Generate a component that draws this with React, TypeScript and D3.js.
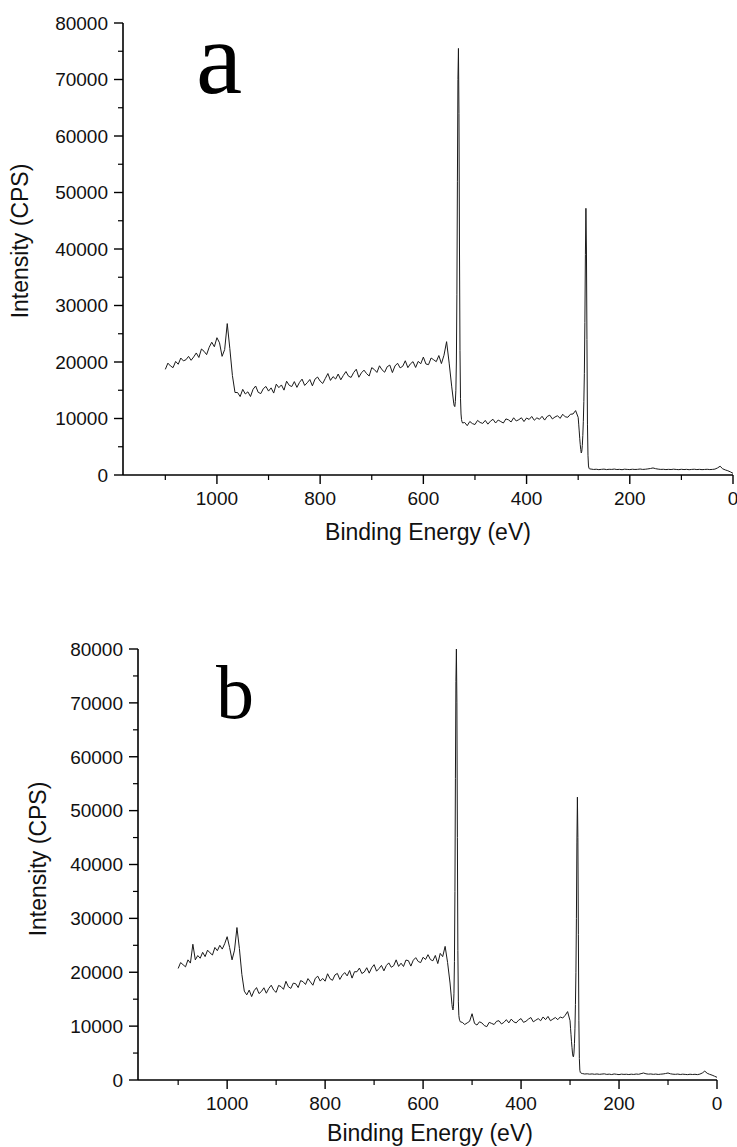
import * as d3 from "d3";

// Binding energies are sampled every 5 eV in the background regions,
// and point by point around the O 1s and C 1s peaks.
const stepEV = 5;

// ---- panel a ----
const aHighStart = 1100; // 1100 -> 545 eV
const aHigh = [
  18700, 19800, 19300, 19000, 20100, 19600, 20700, 20200, 20400, 21000,
  20300, 20900, 21600, 20800, 22300, 21900, 21300, 22600, 23500, 22700,
  24300, 23400, 21000, 22200, 26800, 22400, 17600, 14600,
  14600, 13880, 15160, 14340, 14720, 13890, 15170, 15750, 14630, 14410,
  15290, 15670, 14850, 15420, 14500, 16080, 15460, 15940, 15020, 16600,
  15880, 15650, 16530, 15510, 16390, 16970, 15850, 16330, 16900, 15780,
  16960, 17340, 16620, 16200, 17080, 17960, 16740, 17410, 16990, 17870,
  16850, 17630, 18310, 17490, 17270, 18140, 18720, 17300, 18080, 18560,
  17940, 17520, 19000, 18670, 18150, 19330, 18610, 18190, 19170, 19450,
  18130, 19300, 19780, 18960, 19240, 20220, 19000, 19680, 20060, 19030,
  20110, 19690, 20870, 19650, 19530, 20710, 20390, 20060, 21140, 19720,
  21200, 23600, 19800, 15600,
];
const aMidStart = 520; // 520 -> 300 eV
const aMid = [
  9300, 8730, 9470, 9100, 8930, 9665, 9300, 9130, 9660, 9000,
  9530, 9860, 9200, 9730, 9460, 9200, 9930, 9760, 9390, 10130,
  9560, 9790, 10130, 9460, 10090, 9830, 10360, 9690, 10120, 9860,
  10390, 9720, 10360, 10590, 9920, 10260, 10490, 10020, 10750, 10290,
  10220, 10750, 10800, 11400, 10200,
];
const aLowStart = 275; // 275 -> 0 eV
const aLow = [
  1050, 980, 1020, 950, 1000, 1040, 960, 1010, 990, 1050,
  970, 1000, 940, 1030, 990, 960, 1020, 980, 1000, 1060,
  990, 1020, 1080, 1150, 1250, 1120, 1040, 990, 1010, 960,
  1000, 970, 1030, 980, 950, 1010, 960, 1000, 940, 990,
  1020, 960, 1000, 950, 980, 1010, 960, 990, 1040, 1250,
  1550, 1100, 900, 750, 550, 300,
];
const aO1s = [
  [541, 12600], [540, 12200], [539, 12100], [538, 13000], [537, 15000],
  [536, 20000], [535, 32000], [534, 52000], [533, 70000], [532, 75500],
  [531, 64000], [530, 40000], [529, 22000], [528, 13500], [527, 10800],
  [526, 9800], [525, 9400], [524, 9200],
];
const aC1s = [
  [299, 9000], [298, 7800], [297, 6500], [296, 5400], [295, 4500],
  [294, 3900], [293, 4200], [292, 5200], [291, 7000], [290, 9500],
  [289, 13000], [288, 18000], [287, 27000], [286, 39000], [285, 47200],
  [284, 40000], [283, 24000], [282, 9000], [281, 3500], [280, 1600],
  [279, 1200], [278, 1080],
];

// ---- panel b ----
const bHighStart = 1100;
const bHigh = [
  20700, 21800, 21400, 21000, 22300, 21700, 25200, 22300, 23100, 22600,
  23700, 22900, 24100, 23600, 23200, 24600, 24000, 25000, 24300, 25300,
  26600, 24600, 22300, 24100, 28300, 24400, 19600, 16500,
  15800, 16690, 15480, 16570, 17150, 16040, 16430, 17120, 16110, 17000,
  17590, 16680, 16260, 17550, 17340, 16830, 18320, 17310, 17000, 17980,
  17870, 17160, 18450, 18240, 17730, 18820, 18200, 17590, 18880, 19270,
  18360, 18850, 18340, 19720, 18810, 18500, 19490, 19780, 18670, 19460,
  19940, 19330, 20320, 18910, 20100, 20090, 20780, 19760, 20050, 20840,
  19830, 20820, 21410, 20200, 20680, 21270, 20260, 21250, 21740, 20930,
  21220, 22300, 21090, 21680, 21070, 22260, 22150, 21140, 22230, 22710,
  22000, 21790, 22780, 22370, 23260, 22350, 22130, 23120, 21610, 23500,
  22900, 24800, 21800, 18000,
];
const bMidStart = 520;
const bMid = [
  10700, 10300, 10600, 10900, 12300, 10500, 10200, 10800, 10600, 10100,
  9900, 10700, 10500, 10300, 10900, 11000, 10400, 10700, 11200, 10600,
  11300, 10800, 10600, 11100, 11400, 10700, 10900, 11300, 11600, 10800,
  11100, 11400, 11000, 11700, 11200, 11800, 11000, 11300, 11600, 11200,
  11700, 11500, 12000, 12700, 11000,
];
const bLowStart = 275;
const bLow = [
  1200, 1110, 1150, 1080, 1130, 1060, 1120, 1050, 1100, 1140,
  1040, 1090, 1010, 1120, 1060, 1000, 1090, 1040, 1070, 1010,
  1080, 1030, 1110, 1060, 1180, 1300, 1150, 1090, 1120, 1050,
  1100, 1030, 1080, 1120, 1200, 1300, 1150, 1080, 1050, 1100,
  1020, 1080, 1040, 1000, 1070, 1020, 1060, 1000, 1090, 1300,
  1650, 1250, 1050, 900, 700, 500,
];
const bO1s = [
  [541, 14000], [540, 13300], [539, 13000], [538, 13600], [537, 16000],
  [536, 22000], [535, 35000], [534, 56000], [533, 74000], [532, 80000],
  [531, 70000], [530, 45000], [529, 24000], [528, 14500], [527, 12000],
  [526, 11300], [525, 11000], [524, 10800],
];
const bC1s = [
  [299, 9600], [298, 8400], [297, 7100], [296, 6000], [295, 5000],
  [294, 4400], [293, 4300], [292, 5000], [291, 6800], [290, 9500],
  [289, 14000], [288, 20000], [287, 30000], [286, 44000], [285, 52500],
  [284, 45000], [283, 27000], [282, 11000], [281, 4000], [280, 1800],
  [279, 1400], [278, 1300],
];

// axis ticks
const xMajorTicks = [1000, 800, 600, 400, 200, 0];
const xMinorTicks = [1100, 900, 700, 500, 300, 100];
const yMajorTicks = [0, 10000, 20000, 30000, 40000, 50000, 60000, 70000, 80000];
const yMinorTicks = [5000, 15000, 25000, 35000, 45000, 55000, 65000, 75000];
const xDomain = [1182, 0];
const yDomain = [0, 80000];
const xTitle = "Binding Energy (eV)";
const yTitle = "Intensity (CPS)";

const sans = "'Liberation Sans', Arial, sans-serif";
const serif = "'Liberation Serif', 'Times New Roman', serif";

function onGrid(start: number, values: number[]) {
  return values.map((v, i) => [start - i * stepEV, v]);
}

function spectrum(hs: number, h: number[], o: number[][], ms: number, m: number[], c: number[][], ls: number, l: number[]) {
  const pts = [...onGrid(hs, h), ...o, ...onGrid(ms, m), ...c, ...onGrid(ls, l)];
  return pts.sort((p, q) => q[0] - p[0]);
}

const seriesA = spectrum(aHighStart, aHigh, aO1s, aMidStart, aMid, aC1s, aLowStart, aLow);
const seriesB = spectrum(bHighStart, bHigh, bO1s, bMidStart, bMid, bC1s, bLowStart, bLow);

function Panel({ id, data, left, right, top, bottom, letter, letterX, letterY, letterSize, yTitleX, yTitleY, xTitleX, xTitleY }) {
  const x = d3.scaleLinear().domain(xDomain).range([left, right]);
  const y = d3.scaleLinear().domain(yDomain).range([bottom, top]);
  const line = d3.line<number[]>().x((d) => x(d[0])).y((d) => y(d[1]));

  return (
    <g>
      <defs>
        <clipPath id={`clip-${id}`}>
          <rect x={left} y={top - 1} width={right - left} height={bottom - top + 1} />
        </clipPath>
      </defs>
      <path d={line(data) ?? ""} fill="none" stroke="#1a1a1a" strokeWidth={1} strokeLinejoin="round" clipPath={`url(#clip-${id})`} />

      {/* y axis */}
      <line x1={left} x2={left} y1={top} y2={bottom} stroke="#000" strokeWidth={1.6} />
      {yMajorTicks.map((t) => (
        <g key={`ym-${t}`}>
          <line x1={left - 9} x2={left} y1={y(t)} y2={y(t)} stroke="#000" strokeWidth={1.4} />
          <text x={left - 15} y={y(t)} dy="0.36em" textAnchor="end" fontSize={19} fontFamily={sans} fill="#111">{t}</text>
        </g>
      ))}
      {yMinorTicks.map((t) => (
        <line key={`yn-${t}`} x1={left - 5} x2={left} y1={y(t)} y2={y(t)} stroke="#000" strokeWidth={1.2} />
      ))}

      {/* x axis */}
      <line x1={left} x2={right} y1={bottom} y2={bottom} stroke="#000" strokeWidth={1.6} />
      {xMajorTicks.map((t) => (
        <g key={`xm-${t}`}>
          <line x1={x(t)} x2={x(t)} y1={bottom} y2={bottom + 9} stroke="#000" strokeWidth={1.4} />
          <text x={x(t)} y={bottom + 30} textAnchor="middle" fontSize={19} fontFamily={sans} fill="#111">{t}</text>
        </g>
      ))}
      {xMinorTicks.map((t) => (
        <line key={`xn-${t}`} x1={x(t)} x2={x(t)} y1={bottom} y2={bottom + 5} stroke="#000" strokeWidth={1.2} />
      ))}

      <text x={xTitleX} y={xTitleY} textAnchor="middle" fontSize={23} fontFamily={sans} fill="#111">{xTitle}</text>
      <text transform={`translate(${yTitleX},${yTitleY}) rotate(-90)`} textAnchor="middle" fontSize={23} fontFamily={sans} fill="#111">{yTitle}</text>
      <text x={letterX} y={letterY} textAnchor="middle" fontSize={letterSize} fontFamily={serif} fill="#000">{letter}</text>
    </g>
  );
}

export default function App() {
  return (
    <svg width={737} height={1147} style={{ position: "absolute", left: 0, top: 0, background: "#fff" }}>
      <rect width={737} height={1147} fill="#fff" />
      <Panel id="a" data={seriesA} left={123} right={733} top={23} bottom={475}
        letter="a" letterX={219} letterY={93} letterSize={104}
        yTitleX={28} yTitleY={241} xTitleX={428} xTitleY={540} />
      <Panel id="b" data={seriesB} left={138} right={717} top={649} bottom={1080}
        letter="b" letterX={235} letterY={718} letterSize={76}
        yTitleX={46} yTitleY={859} xTitleX={430} xTitleY={1141} />
    </svg>
  );
}
